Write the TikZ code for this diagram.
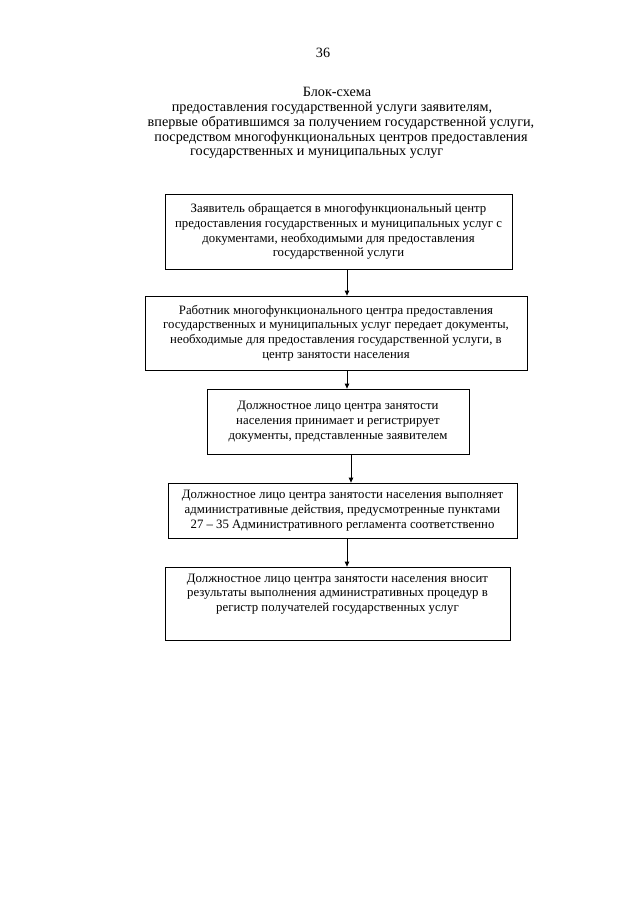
\documentclass[tikz,border=0pt]{standalone}
\usepackage{fontspec}
\setmainfont{Liberation Serif}
\usetikzlibrary{arrows.meta}
\tikzset{
  box/.style={draw=black, line width=0.8pt, minimum width=#1, inner sep=0pt},
  txt/.style={align=center, font=\fontsize{12.8}{14.8}\selectfont, inner sep=0pt},
  ttl/.style={font=\fontsize{14.2}{15}\selectfont, inner sep=0pt, anchor=base},
  arr/.style={draw=black, line width=0.8pt, -{Triangle[length=5pt,width=4.5pt]}}
}
\begin{document}
\begin{tikzpicture}[x=1pt,y=-1pt]
\useasboundingbox[fill=white] (0,0) rectangle (640,905);
% titles
\node[ttl] (t0) at (323,57) {36};
\node[ttl] (t1) at (337,96) {Блок-схема};
\node[ttl] (t2) at (332,111) {предоставления государственной услуги заявителям,};
\node[ttl] (t3) at (341,126) {впервые обратившимся за получением государственной услуги,};
\node[ttl] (t4) at (341,141) {посредством многофункциональных центров предоставления};
\node[ttl,anchor=base west] (t5) at (190,155) {государственных и муниципальных услуг};
% boxes
\node[box=347pt, minimum height=75pt] (b1) at (338.5,231.5) {};
\node[box=382pt, minimum height=74pt] (b2) at (336,333) {};
\node[box=262pt, minimum height=65pt] (b3) at (338,421.5) {};
\node[box=349pt, minimum height=55pt] (b4) at (342.5,510.5) {};
\node[box=345pt, minimum height=73pt] (b5) at (337.5,603.5) {};
% texts
\node[txt] (x1) at (b1.center) {Заявитель обращается в многофункциональный центр\\
предоставления государственных и муниципальных услуг с\\
документами, необходимыми для предоставления\\
государственной услуги};
\node[txt] (x2) at (b2.center) {Работник многофункционального центра предоставления\\
государственных и муниципальных услуг передает документы,\\
необходимые для предоставления государственной услуги, в\\
центр занятости населения};
\node[txt] (x3) at (b3.center) {Должностное лицо центра занятости\\
населения принимает и регистрирует\\
документы, представленные заявителем};
\node[txt] (x4) at (b4.center) {Должностное лицо центра занятости населения выполняет\\
административные действия, предусмотренные пунктами\\
27 -- 35 Административного регламента соответственно};
\node[txt] (x5) at (337.5,594) {Должностное лицо центра занятости населения вносит\\
результаты выполнения административных процедур в\\
регистр получателей государственных услуг};
% arrows
\draw[arr] ([xshift=8.5pt]b1.south) -- ([xshift=11pt]b2.north);
\draw[arr] ([xshift=11pt]b2.south) -- ([xshift=9pt]b3.north);
\draw[arr] ([xshift=13pt]b3.south) -- ([xshift=8.5pt]b4.north);
\draw[arr] ([xshift=4.5pt]b4.south) -- ([xshift=9.5pt]b5.north);
\end{tikzpicture}
\end{document}
